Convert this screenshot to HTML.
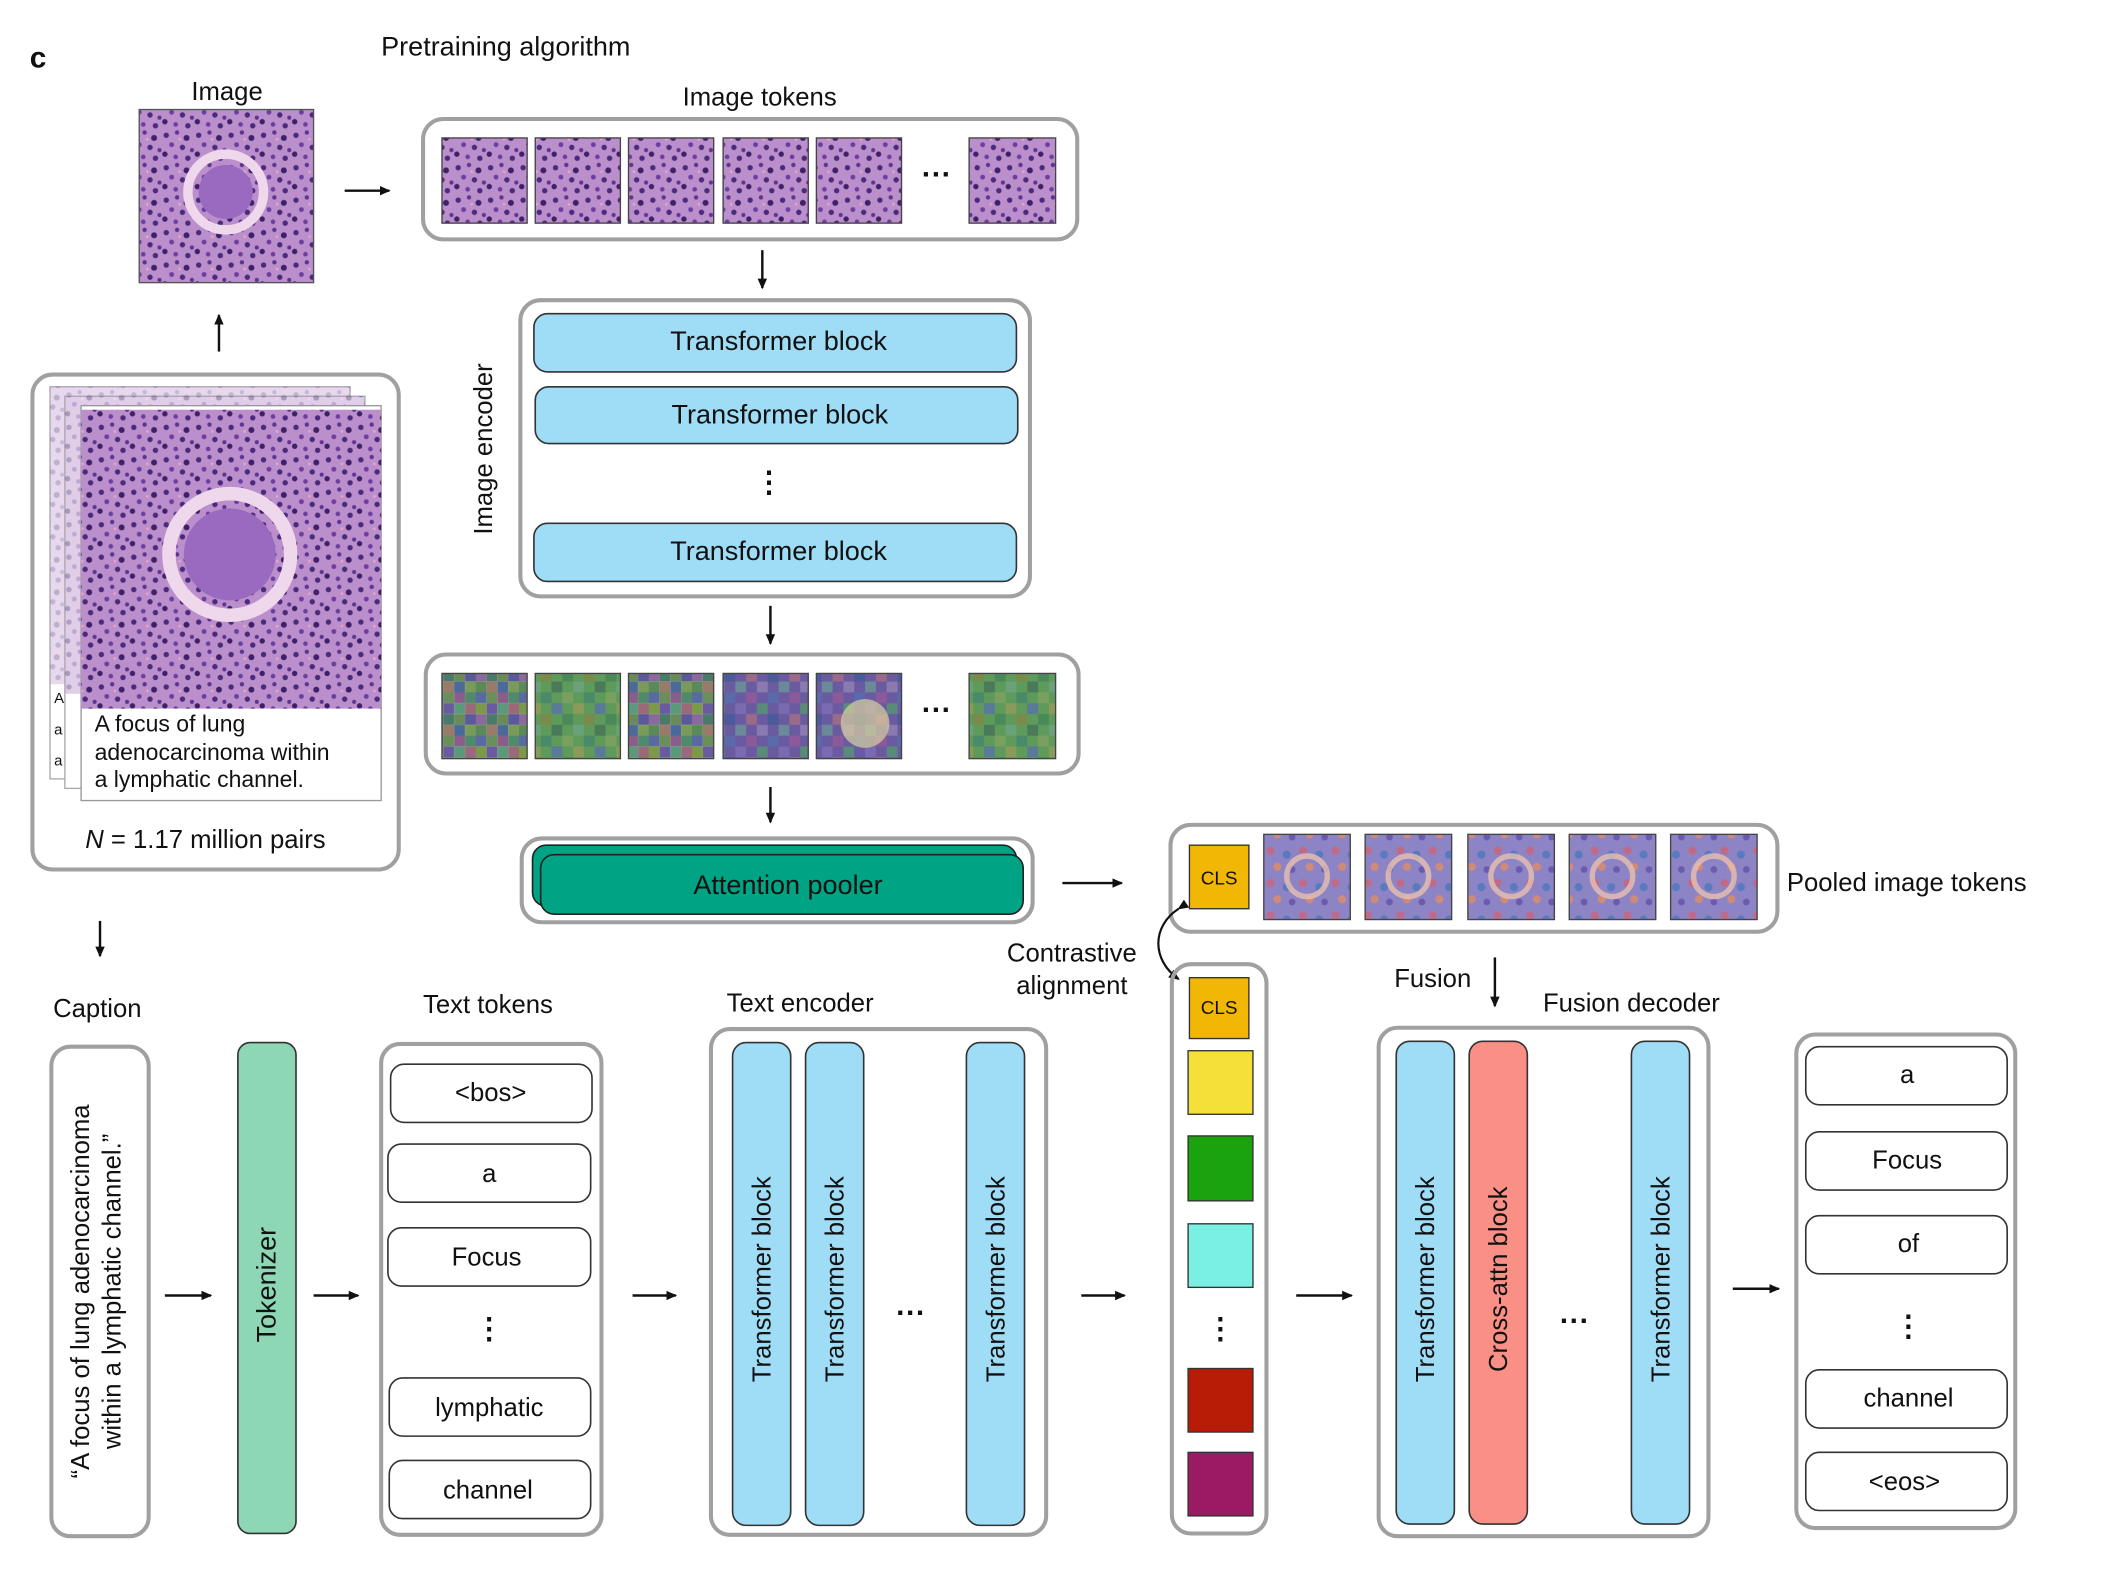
<!DOCTYPE html>
<html><head><meta charset="utf-8"><style>
html,body{margin:0;padding:0;background:#fff}
svg{display:block}
text{font-family:"Liberation Sans",sans-serif;fill:#111}
</style></head><body>
<svg width="2118" height="1570" viewBox="0 0 1567 1161" preserveAspectRatio="none" xmlns="http://www.w3.org/2000/svg">
<defs>
<marker id="ah" markerWidth="8" markerHeight="8" refX="7" refY="4" orient="auto" markerUnits="userSpaceOnUse"><path d="M0,0.5 L8,4 L0,7.5 z" fill="#111"/></marker>
<pattern id="he" width="24" height="24" patternUnits="userSpaceOnUse">
<rect width="24" height="24" fill="#bb8fcc"/>
<circle cx="3" cy="4" r="2" fill="#4a2a7a"/><circle cx="11" cy="2" r="1.6" fill="#5b3590"/>
<circle cx="18" cy="6" r="2.2" fill="#3e2068"/><circle cx="7" cy="11" r="1.8" fill="#6a3f9e"/>
<circle cx="15" cy="13" r="2" fill="#4a2a7a"/><circle cx="22" cy="15" r="1.5" fill="#5b3590"/>
<circle cx="2" cy="18" r="2" fill="#3e2068"/><circle cx="10" cy="20" r="1.7" fill="#6a3f9e"/>
<circle cx="19" cy="21" r="2" fill="#4a2a7a"/><circle cx="13" cy="7" r="1" fill="#e6a6c8"/>
</pattern>
<pattern id="m1" width="32" height="32" patternUnits="userSpaceOnUse">
<rect x="0" y="0" width="8" height="8" fill="#5a6aa0"/><rect x="8" y="0" width="8" height="8" fill="#6b8f5a"/><rect x="16" y="0" width="8" height="8" fill="#8a5e8a"/><rect x="24" y="0" width="8" height="8" fill="#4f8a6a"/>
<rect x="0" y="8" width="8" height="8" fill="#7a9a4a"/><rect x="8" y="8" width="8" height="8" fill="#6a5aa0"/><rect x="16" y="8" width="8" height="8" fill="#5a9a7a"/><rect x="24" y="8" width="8" height="8" fill="#9a6a7a"/>
<rect x="0" y="16" width="8" height="8" fill="#8a6a9a"/><rect x="8" y="16" width="8" height="8" fill="#4a7a6a"/><rect x="16" y="16" width="8" height="8" fill="#6a8a5a"/><rect x="24" y="16" width="8" height="8" fill="#5a5a9a"/>
<rect x="0" y="24" width="8" height="8" fill="#5a8a5a"/><rect x="8" y="24" width="8" height="8" fill="#9a7a6a"/><rect x="16" y="24" width="8" height="8" fill="#4a6a9a"/><rect x="24" y="24" width="8" height="8" fill="#7a9a5a"/>
</pattern>
<pattern id="m2" width="32" height="32" patternUnits="userSpaceOnUse">
<rect width="32" height="32" fill="#5e9a5a"/>
<rect x="0" y="0" width="8" height="8" fill="#7aa060"/><rect x="16" y="0" width="8" height="8" fill="#4a8a6a"/><rect x="8" y="8" width="8" height="8" fill="#8a9a5a"/><rect x="24" y="8" width="8" height="8" fill="#5a7a9a"/>
<rect x="0" y="16" width="8" height="8" fill="#4a8a5a"/><rect x="16" y="16" width="8" height="8" fill="#7a8a4a"/><rect x="8" y="24" width="8" height="8" fill="#6aa07a"/><rect x="24" y="24" width="8" height="8" fill="#4a7a5a"/>
</pattern>
<pattern id="m3" width="32" height="32" patternUnits="userSpaceOnUse">
<rect width="32" height="32" fill="#6a5aa0"/>
<rect x="8" y="0" width="8" height="8" fill="#8a5a9a"/><rect x="24" y="0" width="8" height="8" fill="#5a6aaa"/><rect x="0" y="8" width="8" height="8" fill="#7a6ab0"/><rect x="16" y="8" width="8" height="8" fill="#5a8a7a"/>
<rect x="8" y="16" width="8" height="8" fill="#9a6a8a"/><rect x="24" y="16" width="8" height="8" fill="#4a5a9a"/><rect x="0" y="24" width="8" height="8" fill="#6a8a9a"/><rect x="16" y="24" width="8" height="8" fill="#8a7ab0"/>
</pattern>
<pattern id="hm" width="24" height="24" patternUnits="userSpaceOnUse">
<rect width="24" height="24" fill="#8c84c4"/>
<circle cx="4" cy="5" r="3" fill="#c06a8a"/><circle cx="16" cy="8" r="3" fill="#5a7ac0"/><circle cx="9" cy="17" r="3" fill="#d08a7a"/><circle cx="20" cy="19" r="2.5" fill="#6a5ab0"/>
</pattern>
</defs>

<text x="22" y="50" font-size="22" font-weight="bold">c</text>
<text x="282" y="41" font-size="20">Pretraining algorithm</text>
<text x="168" y="74" font-size="19" text-anchor="middle">Image</text>
<rect x="103" y="81" width="129" height="128" fill="url(#he)" stroke="#555" stroke-width="1"/>
<circle cx="167" cy="142" r="28" fill="none" stroke="#f0d8ec" stroke-width="7"/><circle cx="167" cy="142" r="20" fill="#9a6ac0"/>
<line x1="255" y1="141" x2="288" y2="141" stroke="#111" stroke-width="1.8" marker-end="url(#ah)"/>

<text x="562" y="78" font-size="19" text-anchor="middle">Image tokens</text>
<rect x="313" y="88" width="484" height="89" rx="15" fill="none" stroke="#a0a0a0" stroke-width="3"/>
<g fill="url(#he)" stroke="#444" stroke-width="1">
<rect x="327" y="102" width="63" height="63"/><rect x="396" y="102" width="63" height="63"/><rect x="465" y="102" width="63" height="63"/><rect x="535" y="102" width="63" height="63"/><rect x="604" y="102" width="63" height="63"/><rect x="717" y="102" width="64" height="63"/></g>
<text x="693" y="136" font-size="22" text-anchor="middle" font-weight="bold">···</text>
<line x1="564" y1="185" x2="564" y2="213" stroke="#111" stroke-width="1.8" marker-end="url(#ah)"/>

<rect x="385" y="222" width="377" height="219" rx="15" fill="none" stroke="#a0a0a0" stroke-width="3"/>
<g fill="#9fdcf6" stroke="#333" stroke-width="1.2">
<rect x="395" y="232" width="357" height="43" rx="10"/><rect x="396" y="286" width="357" height="42" rx="10"/><rect x="395" y="387" width="357" height="43" rx="10"/></g>
<g font-size="20" text-anchor="middle"><text x="576" y="259">Transformer block</text><text x="577" y="313">Transformer block</text><text x="576" y="414">Transformer block</text></g>
<text x="569" y="364" font-size="22" text-anchor="middle" font-weight="bold">⋮</text>
<text transform="translate(364,332) rotate(-90)" font-size="19" text-anchor="middle">Image encoder</text>
<line x1="570" y1="448" x2="570" y2="476" stroke="#111" stroke-width="1.8" marker-end="url(#ah)"/>

<rect x="315" y="484" width="483" height="88" rx="15" fill="none" stroke="#a0a0a0" stroke-width="3"/>
<g stroke="#444" stroke-width="1">
<rect x="327" y="498" width="63" height="63" fill="url(#m1)"/><rect x="396" y="498" width="63" height="63" fill="url(#m2)"/><rect x="465" y="498" width="63" height="63" fill="url(#m1)"/><rect x="535" y="498" width="63" height="63" fill="url(#m3)"/><rect x="604" y="498" width="63" height="63" fill="url(#m3)"/><rect x="717" y="498" width="64" height="63" fill="url(#m2)"/></g>
<circle cx="640" cy="535" r="18" fill="#d8d0a0" opacity="0.7"/>
<text x="693" y="532" font-size="22" text-anchor="middle" font-weight="bold">···</text>
<line x1="570" y1="582" x2="570" y2="608" stroke="#111" stroke-width="1.8" marker-end="url(#ah)"/>

<rect x="386" y="620" width="378" height="62" rx="15" fill="none" stroke="#a0a0a0" stroke-width="3"/>
<rect x="394" y="625" width="358" height="45" rx="10" fill="#00a383" stroke="#222" stroke-width="1.2"/>
<rect x="400" y="632" width="357" height="44" rx="10" fill="#00a383" stroke="#222" stroke-width="1.2"/>
<text x="583" y="661" font-size="20" text-anchor="middle">Attention pooler</text>
<line x1="786" y1="653" x2="830" y2="653" stroke="#111" stroke-width="1.8" marker-end="url(#ah)"/>

<rect x="866" y="610" width="449" height="79" rx="15" fill="none" stroke="#a0a0a0" stroke-width="3"/>
<rect x="880" y="625" width="44" height="47" fill="#f2b705" stroke="#333" stroke-width="1"/>
<text x="902" y="654" font-size="14" text-anchor="middle">CLS</text>
<g stroke="#444" stroke-width="1" fill="url(#hm)">
<rect x="935" y="617" width="64" height="63"/><rect x="1010" y="617" width="64" height="63"/><rect x="1086" y="617" width="64" height="63"/><rect x="1161" y="617" width="64" height="63"/><rect x="1236" y="617" width="64" height="63"/></g>
<g fill="none" stroke="#e8c0b0" stroke-width="4" opacity="0.8">
<circle cx="967" cy="648" r="15"/><circle cx="1042" cy="648" r="15"/><circle cx="1118" cy="648" r="15"/><circle cx="1193" cy="648" r="15"/><circle cx="1268" cy="648" r="15"/></g>
<text x="1322" y="659" font-size="19">Pooled image tokens</text>

<rect x="24" y="277" width="271" height="366" rx="15" fill="none" stroke="#a0a0a0" stroke-width="3"/>
<rect x="37" y="286" width="222" height="290" fill="#fff" stroke="#aaa"/>
<rect x="37" y="286" width="222" height="220" fill="url(#he)" opacity="0.35"/>
<rect x="48" y="293" width="222" height="290" fill="#fff" stroke="#aaa"/>
<rect x="48" y="293" width="222" height="220" fill="url(#he)" opacity="0.45"/>
<rect x="60" y="300" width="222" height="292" fill="#fff" stroke="#999"/>
<rect x="60" y="303" width="222" height="221" fill="url(#he)"/>
<circle cx="170" cy="410" r="45" fill="none" stroke="#f0d8ec" stroke-width="10"/><circle cx="170" cy="410" r="34" fill="#9a6ac0"/>
<g font-size="11"><text x="40" y="520" fill="#999">A</text><text x="40" y="543" fill="#999">a</text><text x="40" y="566" fill="#999">a</text></g>
<g font-size="17"><text x="70" y="541">A focus of lung</text><text x="70" y="562">adenocarcinoma within</text><text x="70" y="582">a lymphatic channel.</text></g>
<text x="152" y="627" font-size="19" text-anchor="middle"><tspan font-style="italic">N</tspan> = 1.17 million pairs</text>
<line x1="162" y1="260" x2="162" y2="233" stroke="#111" stroke-width="1.8" marker-end="url(#ah)"/>
<line x1="74" y1="681" x2="74" y2="707" stroke="#111" stroke-width="1.8" marker-end="url(#ah)"/>

<text x="72" y="752" font-size="19" text-anchor="middle">Caption</text>
<rect x="38" y="774" width="72" height="362" rx="14" fill="none" stroke="#a0a0a0" stroke-width="3"/>
<g font-size="19" text-anchor="middle"><text transform="translate(66,955) rotate(-90)">“A focus of lung adenocarcinoma</text><text transform="translate(89,955) rotate(-90)">within a lymphatic channel.”</text></g>
<line x1="122" y1="958" x2="156" y2="958" stroke="#111" stroke-width="1.8" marker-end="url(#ah)"/>
<rect x="176" y="771" width="43" height="363" rx="9" fill="#8dd7b5" stroke="#333" stroke-width="1.2"/>
<text transform="translate(204,950) rotate(-90)" font-size="20" text-anchor="middle">Tokenizer</text>
<line x1="232" y1="958" x2="265" y2="958" stroke="#111" stroke-width="1.8" marker-end="url(#ah)"/>

<text x="361" y="749" font-size="19" text-anchor="middle">Text tokens</text>
<rect x="282" y="772" width="163" height="363" rx="14" fill="none" stroke="#a0a0a0" stroke-width="3"/>
<g fill="#fff" stroke="#333" stroke-width="1.2">
<rect x="289" y="787" width="149" height="43" rx="10"/><rect x="287" y="846" width="150" height="43" rx="10"/><rect x="287" y="908" width="150" height="43" rx="10"/><rect x="288" y="1019" width="149" height="43" rx="10"/><rect x="288" y="1080" width="149" height="43" rx="10"/></g>
<g font-size="19" text-anchor="middle"><text x="363" y="814">&lt;bos&gt;</text><text x="362" y="874">a</text><text x="360" y="936">Focus</text><text x="362" y="1047">lymphatic</text><text x="361" y="1108">channel</text></g>
<text x="362" y="990" font-size="22" text-anchor="middle" font-weight="bold">⋮</text>
<line x1="468" y1="958" x2="500" y2="958" stroke="#111" stroke-width="1.8" marker-end="url(#ah)"/>

<text x="592" y="748" font-size="19" text-anchor="middle">Text encoder</text>
<rect x="526" y="761" width="248" height="374" rx="14" fill="none" stroke="#a0a0a0" stroke-width="3"/>
<g fill="#9fdcf6" stroke="#333" stroke-width="1.2">
<rect x="542" y="771" width="43" height="357" rx="10"/><rect x="596" y="771" width="43" height="357" rx="10"/><rect x="715" y="771" width="43" height="357" rx="10"/></g>
<g font-size="19" text-anchor="middle"><text transform="translate(570,946) rotate(-90)">Transformer block</text><text transform="translate(624,946) rotate(-90)">Transformer block</text><text transform="translate(743,946) rotate(-90)">Transformer block</text></g>
<text x="674" y="978" font-size="22" text-anchor="middle" font-weight="bold">···</text>
<line x1="800" y1="958" x2="832" y2="958" stroke="#111" stroke-width="1.8" marker-end="url(#ah)"/>

<g font-size="19" text-anchor="middle"><text x="793" y="711">Contrastive</text><text x="793" y="735">alignment</text></g>
<path d="M872,672 C852,685 852,710 872,724" fill="none" stroke="#111" stroke-width="1.6" marker-end="url(#ah)" marker-start="url(#ah)"/>

<rect x="867" y="713" width="70" height="421" rx="14" fill="none" stroke="#a0a0a0" stroke-width="3"/>
<g stroke="#333" stroke-width="1">
<rect x="880" y="723" width="44" height="45" fill="#f2b705"/>
<rect x="879" y="777" width="48" height="47" fill="#f5e03a"/>
<rect x="879" y="840" width="48" height="48" fill="#1aa30f"/>
<rect x="879" y="905" width="48" height="47" fill="#7af0e2"/>
<rect x="879" y="1012" width="48" height="47" fill="#b81c06"/>
<rect x="879" y="1074" width="48" height="47" fill="#9a1a63"/></g>
<text x="902" y="750" font-size="14" text-anchor="middle">CLS</text>
<text x="903" y="990" font-size="22" text-anchor="middle" font-weight="bold">⋮</text>
<line x1="959" y1="958" x2="1000" y2="958" stroke="#111" stroke-width="1.8" marker-end="url(#ah)"/>

<text x="1060" y="730" font-size="19" text-anchor="middle">Fusion</text>
<line x1="1106" y1="708" x2="1106" y2="744" stroke="#111" stroke-width="1.8" marker-end="url(#ah)"/>
<text x="1207" y="748" font-size="19" text-anchor="middle">Fusion decoder</text>
<rect x="1020" y="760" width="244" height="376" rx="14" fill="none" stroke="#a0a0a0" stroke-width="3"/>
<g stroke="#333" stroke-width="1.2">
<rect x="1033" y="770" width="43" height="357" rx="10" fill="#9fdcf6"/><rect x="1087" y="770" width="43" height="357" rx="10" fill="#fa9085"/><rect x="1207" y="770" width="43" height="357" rx="10" fill="#9fdcf6"/></g>
<g font-size="19" text-anchor="middle"><text transform="translate(1061,946) rotate(-90)">Transformer block</text><text transform="translate(1115,946) rotate(-90)">Cross-attn block</text><text transform="translate(1235,946) rotate(-90)">Transformer block</text></g>
<text x="1165" y="984" font-size="22" text-anchor="middle" font-weight="bold">···</text>
<line x1="1282" y1="953" x2="1316" y2="953" stroke="#111" stroke-width="1.8" marker-end="url(#ah)"/>

<rect x="1329" y="765" width="162" height="365" rx="14" fill="none" stroke="#a0a0a0" stroke-width="3"/>
<g fill="#fff" stroke="#333" stroke-width="1.2">
<rect x="1336" y="774" width="149" height="43" rx="10"/><rect x="1336" y="837" width="149" height="43" rx="10"/><rect x="1336" y="899" width="149" height="43" rx="10"/><rect x="1336" y="1013" width="149" height="43" rx="10"/><rect x="1336" y="1074" width="149" height="43" rx="10"/></g>
<g font-size="19" text-anchor="middle"><text x="1411" y="801">a</text><text x="1411" y="864">Focus</text><text x="1412" y="926">of</text><text x="1412" y="1040">channel</text><text x="1409" y="1102">&lt;eos&gt;</text></g>
<text x="1412" y="988" font-size="22" text-anchor="middle" font-weight="bold">⋮</text>
</svg>
</body></html>
